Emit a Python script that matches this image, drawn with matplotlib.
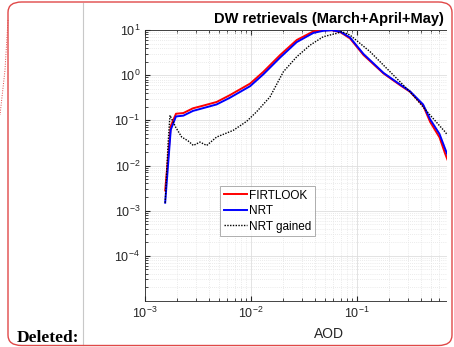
import matplotlib
matplotlib.use("Agg")
import matplotlib.pyplot as plt
from matplotlib.patches import FancyBboxPatch, Rectangle
from matplotlib.lines import Line2D
import numpy as np

# ---- data ----
x_firt = [0.00155, 0.00175, 0.00196, 0.0023, 0.00284, 0.0035, 0.00474, 0.0063, 0.0098,
          0.0131, 0.0188, 0.027, 0.0387, 0.048, 0.058, 0.07, 0.086, 0.115, 0.178,
          0.255, 0.316, 0.42, 0.49, 0.60, 0.68, 0.75]
y_firt = [0.0028, 0.075, 0.14, 0.145, 0.185, 0.21, 0.255, 0.36, 0.65,
          1.19, 2.78, 6.0, 9.3, 9.9, 9.9, 8.9, 6.5, 2.8, 1.09,
          0.6, 0.43, 0.215, 0.092, 0.042, 0.018, 0.010]

x_nrt = x_firt
y_nrt = [0.0015, 0.062, 0.122, 0.127, 0.162, 0.185, 0.225, 0.315, 0.57,
         1.05, 2.45, 5.4, 8.6, 9.6, 9.9, 9.1, 6.8, 2.95, 1.12,
         0.62, 0.44, 0.225, 0.105, 0.05, 0.023, 0.013]

x_gain = [0.00155, 0.00165, 0.00172, 0.00195, 0.00222, 0.00255, 0.00286, 0.0033, 0.00382,
          0.00474, 0.0068, 0.0091, 0.0113, 0.0151, 0.0202, 0.027, 0.036, 0.048,
          0.064, 0.072, 0.086, 0.133, 0.205, 0.316, 0.49, 0.68, 0.75]
y_gain = [0.0015, 0.03, 0.129, 0.07, 0.0427, 0.035, 0.0278, 0.033, 0.0278,
          0.0427, 0.06, 0.095, 0.155, 0.33, 1.19, 2.55, 4.6, 7.1,
          8.4, 9.2, 7.7, 3.3, 1.19, 0.43, 0.13, 0.055, 0.04]

labels = ["FIRTLOOK", "NRT", "NRT gained"]
title = "DW retrievals (March+April+May)"
xticks = [1e-3, 1e-2, 1e-1, 1e0]
xticklabels = [r"$10^{-3}$", r"$10^{-2}$", r"$10^{-1}$", ""]
yticks = [1e-4, 1e-3, 1e-2, 1e-1, 1e0, 1e1]

plt.rcParams['font.family'] = ['Liberation Sans', 'DejaVu Sans']
plt.rcParams['mathtext.default'] = 'regular'

W, H = 454, 347
fig = plt.figure(figsize=(W / 100, H / 100), dpi=100)
fig.patch.set_facecolor('white')

L, R, T, B = 145, 513, 30, 301
ax = fig.add_axes([L / W, 1 - B / H, (R - L) / W, (B - T) / H])
ax.set_xscale('log')
ax.set_yscale('log')
ax.set_xlim(1e-3, 10 ** (-3 + (R - L) / 106))
ax.set_ylim(1e-5, 1e1)

ax.plot(x_firt, y_firt, color='#ff0000', lw=1.4, label=labels[0], zorder=3)
ax.plot(x_nrt, y_nrt, color='#0000ff', lw=1.4, label=labels[1], zorder=4)
ax.plot(x_gain, y_gain, color='black', lw=1.0, ls=(0, (1, 1)), label=labels[2], zorder=5)

ax.grid(True, which='major', color='#dedede', lw=0.6, ls='-')
ax.grid(True, which='minor', color='#e4e4e4', lw=0.6, ls=(0, (1, 1.5)))
ax.set_axisbelow(True)
ax.set_xticks(xticks)
ax.set_xticklabels(xticklabels)
ax.set_yticks(yticks)
ax.tick_params(which='both', direction='in', top=True, right=False, labelsize=9, colors='#262626')
ax.tick_params(which='major', length=3.5)
ax.tick_params(which='minor', length=2)
for s in ax.spines.values():
    s.set_color('#262626')
    s.set_linewidth(0.6)
ax.spines['right'].set_visible(False)

ax.set_xlabel('AOD', fontsize=10, color='#262626', labelpad=4)
ax.set_title(title, fontsize=10.5, fontweight='bold', color='black', pad=5)

leg = ax.legend(loc='upper left', bbox_to_anchor=((220 - L) / (R - L), (B - 186) / (B - T)),
                fontsize=8.5, frameon=True, fancybox=False, handlelength=2.0,
                handletextpad=0.15, labelspacing=0.3, borderpad=0.3, borderaxespad=0)
leg.get_frame().set_edgecolor('#9a9a9a')
leg.get_frame().set_linewidth(0.7)

# ---- page decoration around the chart ----
fig.patches.append(Rectangle((447 / W, 0), 7 / W, 1, transform=fig.transFigure,
                             facecolor='white', edgecolor='none', zorder=10))
fig.patches.append(FancyBboxPatch((8 / W, 1.5 / H), (452 - 8) / W, (345 - 1.5) / H,
                                  boxstyle='round,pad=0,rounding_size=0.03',
                                  transform=fig.transFigure, facecolor='none',
                                  edgecolor='#e04848', lw=1.0, zorder=11))
fig.lines.append(Line2D([83 / W, 83 / W], [1 - 3 / H, 1 - 345 / H], transform=fig.transFigure,
                        color='#c8c8c8', lw=0.8, zorder=11))
fig.lines.append(Line2D([8 / W, 5 / W, 0 / W], [1 - 20 / H, 1 - 70 / H, 1 - 115 / H],
                        transform=fig.transFigure,
                        color='#e04848', lw=0.7, ls=(0, (1, 1.5)), zorder=11))
fig.text(17 / W, 1 - 338 / H, 'Deleted:', fontsize=12.5, fontweight='bold',
         family=['Liberation Serif', 'DejaVu Serif'], va='center', ha='left', zorder=12)

fig.savefig('out.png', dpi=100, facecolor='white')
